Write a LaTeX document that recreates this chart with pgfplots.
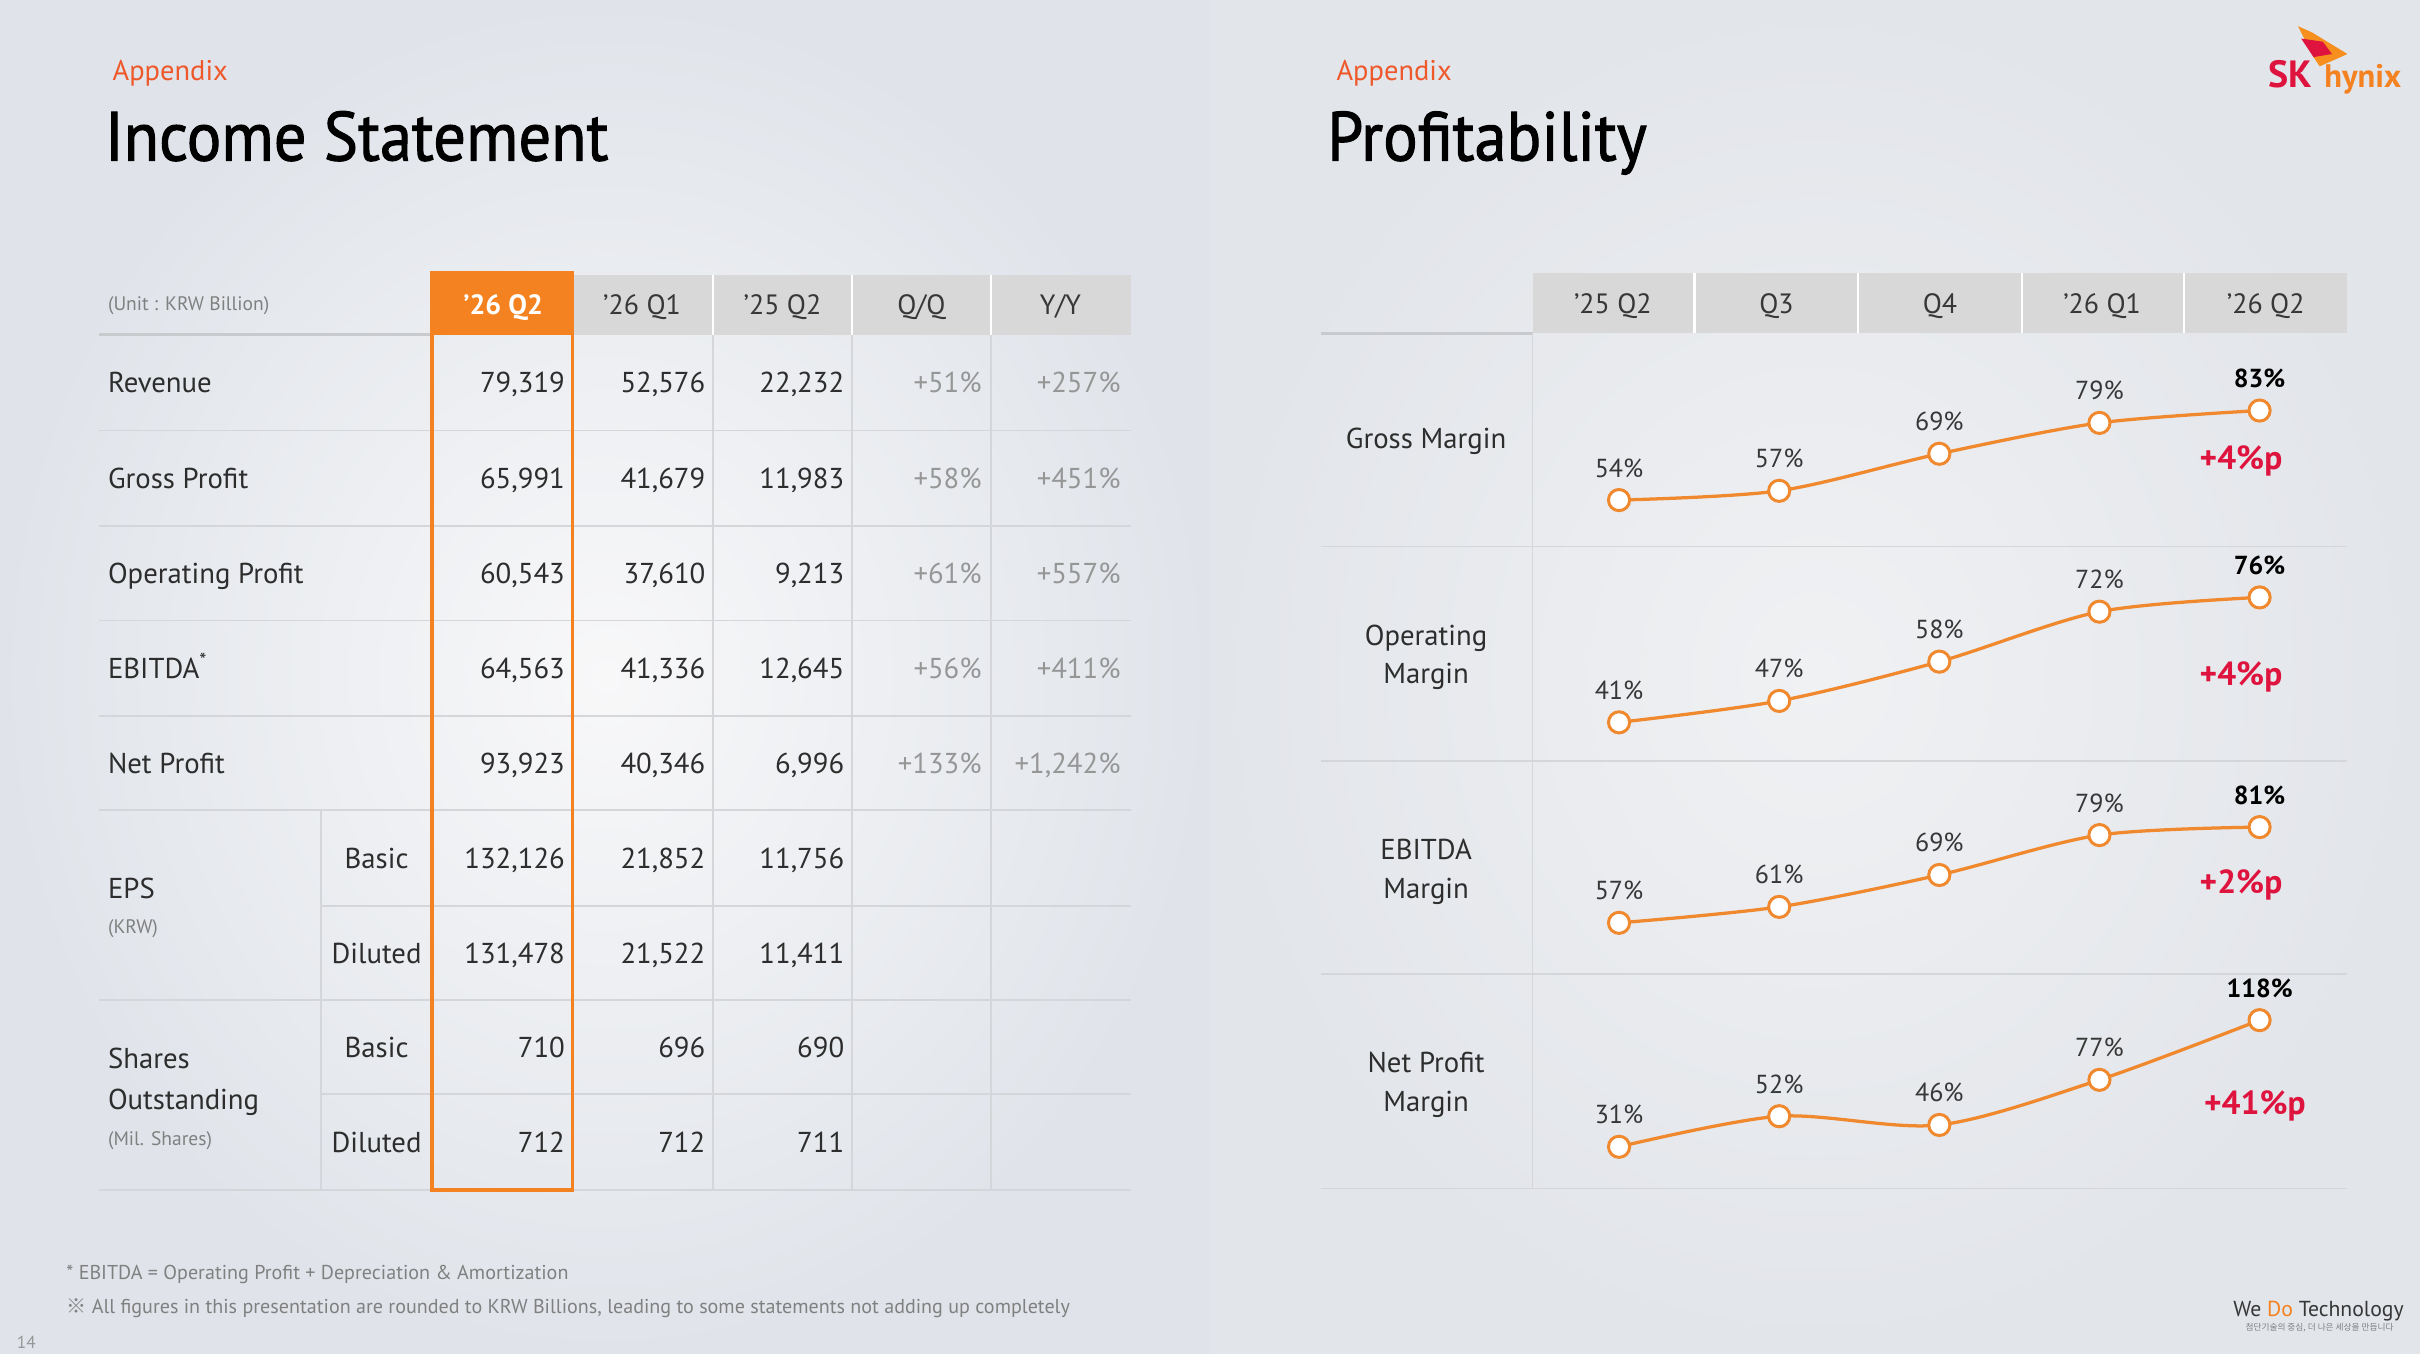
\documentclass[border=0pt]{standalone}
\usepackage{pgfplots}
\pgfplotsset{compat=1.18}
\usepackage{fontspec}
\setmainfont{PT Sans}
\newfontfamily\titlefont[FakeStretch=0.93,FakeBold=1.4]{PT Sans}
\newfontfamily\kr{Noto Sans CJK KR}
\definecolor{skorange}{RGB}{245,130,32}
\definecolor{lineorange}{RGB}{240,136,46}
\definecolor{skred}{RGB}{222,20,62}
\definecolor{appx}{RGB}{238,88,42}
\definecolor{hdrgray}{RGB}{216,216,216}
\definecolor{txt}{RGB}{45,45,45}
\definecolor{txt2}{RGB}{55,55,55}
\definecolor{lgtxt}{RGB}{150,150,150}
\definecolor{rule}{RGB}{212,214,217}
\definecolor{rule2}{RGB}{200,202,205}
\definecolor{bgL1}{RGB}{248,248,249}
\definecolor{bgL2}{RGB}{224,228,234}
\definecolor{bgR1}{RGB}{240,241,243}
\definecolor{bgR2}{RGB}{226,229,234}
\newcommand\body{\fontsize{10.6}{12}\selectfont}
\newcommand\hdr{\fontsize{10.3}{12}\selectfont}
\newcommand\smallt{\fontsize{7.2}{9}\selectfont}
\newcommand\datarow[7]{%
  \node[anchor=base west,text=txt] at (70,#1+6.5) {\body #2};
  \node[anchor=base east,text=txt] at (366,#1+6.5) {\body #3};
  \node[anchor=base east,text=txt] at (457,#1+6.5) {\body #4};
  \node[anchor=base east,text=txt] at (547,#1+6.5) {\body #5};
  \node[anchor=base east,text=lgtxt] at (636,#1+6.5) {\body #6};
  \node[anchor=base east,text=lgtxt] at (726,#1+6.5) {\body #7};
}
\newcommand\subrow[5]{%
  \node[anchor=base,text=txt] at (244,#1+6.5) {\body #2};
  \node[anchor=base east,text=txt] at (366,#1+6.5) {\body #3};
  \node[anchor=base east,text=txt] at (457,#1+6.5) {\body #4};
  \node[anchor=base east,text=txt] at (547,#1+6.5) {\body #5};
}
\pgfplotsset{mrow/.style={width=105.6mm, scale only axis, anchor=north west,
  xmin=-0.54, xmax=4.549, hide axis, clip=false,
  point meta=explicit symbolic, nodes near coords={\pgfplotspointmeta},
  every node near coord/.style={anchor=base, yshift=8.5pt, inner sep=0pt,
    font=\fontsize{9.6}{11}\selectfont, text=txt2}},
  mline/.style={lineorange, line width=1.2pt, smooth, mark=*, mark size=3.9pt,
  mark options={fill=white, draw=lineorange, line width=1.1pt}}}
\begin{document}
\begin{tikzpicture}[x=0.2mm,y=-0.2mm, every node/.style={inner sep=0pt, outer sep=0pt}]
\useasboundingbox (0,0) rectangle (1568,877);
\shade[inner color=bgL1, outer color=bgL2] (0,0) rectangle (785,877);
\shade[inner color=bgR1, outer color=bgR2] (785,0) rectangle (1568,877);
\coordinate (r1) at (993,216);
\coordinate (r2) at (993,354);
\coordinate (r3) at (993,493);
\coordinate (r4) at (993,631);
% ---------- left panel
\node[anchor=base west,text=appx] at (73,52) {\fontsize{10.5}{12}\selectfont Appendix};
\node[anchor=base west,text=black] at (68,104) {\titlefont\fontsize{25.6}{30}\selectfont Income Statement};
\fill[hdrgray] (371,178) rectangle (733,217);
\draw[white, line width=0.9pt] (462,178)--(462,217) (552,178)--(552,217) (642,178)--(642,217);
\fill[skorange] (280,177) rectangle (371,217);
\node[anchor=base west,text=gray] at (70,201) {\smallt (Unit : KRW Billion)};
\node[anchor=base,text=white] at (326,204) {\hdr\bfseries ’26 Q2};
\node[anchor=base,text=txt2] at (416,204) {\hdr ’26 Q1};
\node[anchor=base,text=txt2] at (507,204) {\hdr ’25 Q2};
\node[anchor=base,text=txt2] at (597,204) {\hdr Q/Q};
\node[anchor=base,text=txt2] at (687,204) {\hdr Y/Y};
\draw[rule2, line width=1.1pt] (64,217)--(280,217);
\draw[rule, line width=0.6pt] (64,279)--(733,279) (64,341)--(733,341) (64,402)--(733,402)
  (64,464)--(733,464) (64,525)--(733,525) (208,587)--(733,587) (64,648)--(733,648)
  (208,709)--(733,709) (64,771)--(733,771);
\draw[rule, line width=0.6pt] (462,217)--(462,771) (552,217)--(552,771) (642,217)--(642,771)
  (208,525)--(208,771);
\draw[skorange, line width=1.3pt] (280,177) rectangle (371,771);
\datarow{248}{Revenue}{79,319}{52,576}{22,232}{+51\%}{+257\%}
\datarow{310}{Gross Profit}{65,991}{41,679}{11,983}{+58\%}{+451\%}
\datarow{371.5}{Operating Profit}{60,543}{37,610}{9,213}{+61\%}{+557\%}
\datarow{433}{EBITDA\textsuperscript{*}}{64,563}{41,336}{12,645}{+56\%}{+411\%}
\datarow{494.5}{Net Profit}{93,923}{40,346}{6,996}{+133\%}{+1,242\%}
\subrow{556}{Basic}{132,126}{21,852}{11,756}
\subrow{617.5}{Diluted}{131,478}{21,522}{11,411}
\subrow{678.5}{Basic}{710}{696}{690}
\subrow{740}{Diluted}{712}{712}{711}
\node[anchor=base west,text=txt] at (70,582) {\body EPS};
\node[anchor=base west,text=gray] at (70,605) {\smallt (KRW)};
\node[anchor=base west,text=txt] at (70,692) {\body Shares};
\node[anchor=base west,text=txt] at (70,719) {\body Outstanding};
\node[anchor=base west,text=gray] at (70,742) {\smallt (Mil. Shares)};
\node[anchor=base west,text=gray] at (43,829) {\fontsize{7.4}{9}\selectfont * EBITDA = Operating Profit + Depreciation \& Amortization};
\node[anchor=base west,text=gray] at (43,851) {\fontsize{7.4}{9}\selectfont {\kr ※} All figures in this presentation are rounded to KRW Billions, leading to some statements not adding up completely};
\node[anchor=base west,text=lgtxt] at (11,874) {\fontsize{6.4}{8}\selectfont 14};
% ---------- right panel
\node[anchor=base west,text=appx] at (866,52) {\fontsize{10.5}{12}\selectfont Appendix};
\node[anchor=base west,text=black] at (860,104) {\titlefont\fontsize{25.6}{30}\selectfont Profitability};
\fill[hdrgray] (993,177) rectangle (1521,216);
\draw[white, line width=0.9pt] (1098,177)--(1098,216) (1204,177)--(1204,216) (1310,177)--(1310,216) (1415,177)--(1415,216);
\node[anchor=base,text=txt2] at (1045,203) {\hdr ’25 Q2};
\node[anchor=base,text=txt2] at (1151,203) {\hdr Q3};
\node[anchor=base,text=txt2] at (1257,203) {\hdr Q4};
\node[anchor=base,text=txt2] at (1362,203) {\hdr ’26 Q1};
\node[anchor=base,text=txt2] at (1468,203) {\hdr ’26 Q2};
\draw[rule2, line width=1.1pt] (856,216)--(993,216);
\draw[rule, line width=0.6pt] (856,354)--(1521,354) (856,493)--(1521,493) (856,631)--(1521,631) (856,770)--(1521,770);
\draw[rule, line width=0.6pt] (993,216)--(993,770);
\tikzset{rlab/.style={text=txt,align=center,font=\fontsize{10.6}{14.2}\selectfont}}
\node[rlab] at (924,286) {Gross Margin};
\node[rlab] at (924,426) {Operating\\Margin};
\node[rlab] at (924,565) {EBITDA\\Margin};
\node[rlab] at (924,703) {Net Profit\\Margin};
\begin{axis}[mrow, at={(r1)}, height=27.6mm, ymin=39, ymax=108]
\addplot[mline] coordinates {(0,54) [54\%] (1,57) [57\%] (2,69) [69\%] (3,79) [79\%] (4,83) [\textbf{\color{black}83\%}]};
\end{axis}
\begin{axis}[mrow, at={(r2)}, height=27.8mm, ymin=30.2, ymax=90.3]
\addplot[mline] coordinates {(0,41) [41\%] (1,47) [47\%] (2,58) [58\%] (3,72) [72\%] (4,76) [\textbf{\color{black}76\%}]};
\end{axis}
\begin{axis}[mrow, at={(r3)}, height=27.6mm, ymin=44.2, ymax=97.6]
\addplot[mline] coordinates {(0,57) [57\%] (1,61) [61\%] (2,69) [69\%] (3,79) [79\%] (4,81) [\textbf{\color{black}81\%}]};
\end{axis}
\begin{axis}[mrow, at={(r4)}, height=27.8mm, ymin=2.4, ymax=149.8]
\addplot[mline] coordinates {(0,31) [31\%] (1,52) [52\%] (2,46) [46\%] (3,77) [77\%] (4,118) [\textbf{\color{black}118\%}]};
\end{axis}
\node[anchor=base,text=skred] at (1452,304) {\fontsize{12.3}{14}\selectfont\bfseries +4\%p};
\node[anchor=base,text=skred] at (1452,444) {\fontsize{12.3}{14}\selectfont\bfseries +4\%p};
\node[anchor=base,text=skred] at (1452,579) {\fontsize{12.3}{14}\selectfont\bfseries +2\%p};
\node[anchor=base,text=skred] at (1461,722) {\fontsize{12.3}{14}\selectfont\bfseries +41\%p};
% ---------- logo
\fill[skorange!90!yellow] (1489,17)--(1498,21)--(1521,35)--(1503,43)--(1499,37)--cycle;
\fill[skred] (1491,25)--(1505,27)--(1511,35)--(1499,37)--cycle;
\node[anchor=base west,text=skred] at (1470,57) {\fontsize{14}{16}\selectfont\bfseries SK};
\node[anchor=base west,text=skorange] at (1506,57) {\fontsize{12}{14}\selectfont\bfseries hynix};
\node[anchor=base west,text=txt2] at (1447,853) {\fontsize{8}{10}\selectfont We {\color{skorange}Do} Technology};
\node[anchor=base west,text=gray] at (1455,862) {\kr\fontsize{3.2}{4}\selectfont 첨단기술의 중심, 더 나은 세상을 만듭니다};
\end{tikzpicture}
\end{document}
